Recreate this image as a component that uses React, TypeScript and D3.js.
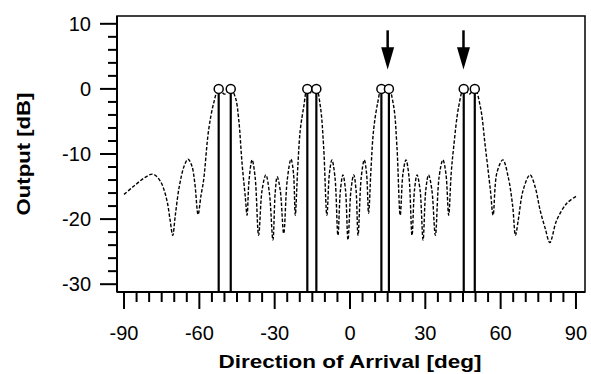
import React, { useRef, useEffect } from "react";
import * as d3 from "d3";

// beam output pattern: [direction deg, output dB]
const patternAngles: number[] = [
  -90, -86.3, -82, -78.5, -75.5, -73, -71.7, -70.6, -69.6, -68, -66, -64.5, -63, -61.8, -60.5,
  -59.4, -58.3, -56.3, -54.3, -52.3, -50, -47.5, -45.6, -44.3, -43, -41.7, -41,
  -40.2, -39, -37.8, -36.4, -35, -33.5, -32.1, -30.7, -29.8, -29, -27.8, -26.4,
  -25, -23.5, -22.5, -21.8, -20.8, -19.8, -18.4, -17, -15.2, -13.4, -11.8, -10.5, -9.2,
  -8.2, -7.2, -6, -4.8, -3.8, -2.8, -1.8, -0.8, 0.4, 1.5, 2.4, 3.2,
  4.5, 5.7, 6.6, 7.4, 8.4, 9.4, 11, 12.5, 14, 15.5, 17.4, 18.7, 20,
  21.1, 22.3, 23.5, 24.7, 25.7, 26.7, 27.9, 29.1, 30.2, 31.3, 32.6, 34,
  35.5, 37, 38.2, 39.3, 40.3, 41.3, 43.3, 45.3, 47.5, 49.7, 51.9, 53.9, 55.9, 57,
  58.5, 60.9, 63, 64.8, 65.9, 67, 69, 71.7, 73.7, 75.7, 77.8, 79.6, 82.3, 86.3, 90,
];
const patternDb: number[] = [
  -16.2, -15, -13.7, -13.1, -14.2, -17, -20, -22.5, -19.5, -15, -11.8, -10.8, -11.8, -14.5, -19.3,
  -16.5, -14, -6.3, -2.2, 0, -0.8, 0, -1.4, -4.8, -11.4, -16.6, -19.4,
  -14, -10.9, -13.5, -22.5, -15.5, -13.2, -16, -23.2, -16, -13.5, -15.5, -22.2,
  -14, -10.8, -13, -19.4, -12, -6.3, -2.7, 0, -0.7, 0, -2.7, -8.9, -19.4,
  -13, -10.9, -13.5, -22.5, -15.5, -13.2, -15.5, -23.2, -15.5, -13.2, -15.5, -22.5,
  -13.5, -10.9, -13, -19.1, -12, -6.3, -2.2, 0, -0.6, 0, -2.7, -8.9, -19.4,
  -13, -10.9, -13.5, -22.5, -15.5, -13.2, -15.5, -23.2, -15.5, -13.2, -15.5, -22.5,
  -13.5, -10.9, -13, -19.4, -13, -8.9, -2.7, 0, -0.8, 0, -2.7, -8.9, -15.5, -19.4,
  -12.9, -10.9, -13.5, -18, -22.5, -20.2, -15.5, -13.2, -15, -18.6, -21.5, -23.6, -20.2, -17.6, -16.5,
];

// estimated source directions (circles + vertical bars)
const estimates: number[] = [-52.3, -47.5, -17, -13.4, 12.5, 15.5, 45.3, 49.7];
const estimateDb = 0;

// arrows marking sources
const arrowAngles: number[] = [15, 45.2];

const xTicks: number[] = [-90, -60, -30, 0, 30, 60, 90];
const yTicks: number[] = [-30, -20, -10, 0, 10];

export default function App() {
  const svgRef = useRef<SVGSVGElement>(null);

  useEffect(() => {
    const width = 591;
    const height = 374;
    const left = 117;
    const right = 585;
    const top = 16;
    const bottom = 292;

    const svg = d3.select(svgRef.current);
    svg.selectAll("*").remove();
    svg.attr("width", width).attr("height", height);

    const x = d3.scaleLinear().domain([-92.8, 93.6]).range([left, right]);
    const y = d3.scaleLinear().domain([-31.2, 11.2]).range([bottom, top]);

    const font = "Liberation Sans, Arial, Helvetica, sans-serif";

    // frame
    svg.append("rect")
      .attr("x", left).attr("y", top)
      .attr("width", right - left).attr("height", bottom - top)
      .attr("fill", "none").attr("stroke", "black").attr("stroke-width", 1.5);

    // x axis
    const xAxis = svg.append("g");
    const xMinor = d3.range(-90, 91, 5);
    xAxis.selectAll("line.minor").data(xMinor).enter().append("line")
      .attr("x1", (d) => x(d)).attr("x2", (d) => x(d))
      .attr("y1", bottom).attr("y2", (d) => (d % 30 === 0 ? bottom + 17 : bottom + 10))
      .attr("stroke", "black").attr("stroke-width", 2);
    xAxis.selectAll("text").data(xTicks).enter().append("text")
      .attr("x", (d) => x(d)).attr("y", 340)
      .attr("text-anchor", "middle")
      .style("font-family", font).style("font-size", "20px")
      .text((d) => d);
    xAxis.append("line")
      .attr("x1", left).attr("x2", right).attr("y1", bottom).attr("y2", bottom)
      .attr("stroke", "black").attr("stroke-width", 2);

    // y axis
    const yAxis = svg.append("g");
    const yMinor = d3.range(-30, 11, 2);
    yAxis.selectAll("line").data(yMinor).enter().append("line")
      .attr("x1", (d) => (d % 10 === 0 ? left - 17 : left - 9)).attr("x2", left)
      .attr("y1", (d) => y(d)).attr("y2", (d) => y(d))
      .attr("stroke", "black").attr("stroke-width", 2);
    yAxis.selectAll("text").data(yTicks).enter().append("text")
      .attr("x", 91).attr("y", (d) => y(d) + 7)
      .attr("text-anchor", "end")
      .style("font-family", font).style("font-size", "20px")
      .text((d) => d);
    yAxis.append("line")
      .attr("x1", left).attr("x2", left).attr("y1", top).attr("y2", bottom)
      .attr("stroke", "black").attr("stroke-width", 2);

    // axis titles
    svg.append("text")
      .attr("x", x(0)).attr("y", 368)
      .attr("text-anchor", "middle")
      .attr("textLength", 263).attr("lengthAdjust", "spacingAndGlyphs")
      .style("font-family", font).style("font-size", "19px").style("font-weight", "bold")
      .text("Direction of Arrival [deg]");
    svg.append("text")
      .attr("transform", `translate(30, ${(top + bottom) / 2}) rotate(-90)`)
      .attr("text-anchor", "middle")
      .attr("textLength", 123).attr("lengthAdjust", "spacingAndGlyphs")
      .style("font-family", font).style("font-size", "19px").style("font-weight", "bold")
      .text("Output [dB]");

    // dashed beam pattern
    const pts: [number, number][] = patternAngles.map((a, i) => [a, patternDb[i]]);
    const line = d3.line<[number, number]>()
      .x((d) => x(d[0]))
      .y((d) => y(d[1]))
      .curve(d3.curveCatmullRom.alpha(0.5));
    svg.append("path")
      .attr("d", line(pts))
      .attr("fill", "none")
      .attr("stroke", "black")
      .attr("stroke-width", 1.4)
      .attr("stroke-dasharray", "3.5,1.8");

    // estimate bars and circles
    svg.selectAll("line.est").data(estimates).enter().append("line")
      .attr("x1", (d) => x(d)).attr("x2", (d) => x(d))
      .attr("y1", y(estimateDb)).attr("y2", bottom)
      .attr("stroke", "black").attr("stroke-width", 2.2);
    svg.selectAll("circle").data(estimates).enter().append("circle")
      .attr("cx", (d) => x(d)).attr("cy", y(estimateDb))
      .attr("r", 4.5)
      .attr("fill", "white").attr("stroke", "black").attr("stroke-width", 1.5);

    // arrows
    const arrows = svg.selectAll("g.arrow").data(arrowAngles).enter().append("g");
    arrows.append("line")
      .attr("x1", (d) => x(d)).attr("x2", (d) => x(d))
      .attr("y1", y(9)).attr("y2", y(6))
      .attr("stroke", "black").attr("stroke-width", 2.5);
    arrows.append("path")
      .attr("d", (d) => `M${x(d) - 6.5},${y(6.4)} L${x(d) + 6.5},${y(6.4)} L${x(d)},${y(3)} Z`)
      .attr("fill", "black");
  }, []);

  return <svg ref={svgRef} style={{ position: "absolute", left: 0, top: 0, background: "white" }}></svg>;
}
